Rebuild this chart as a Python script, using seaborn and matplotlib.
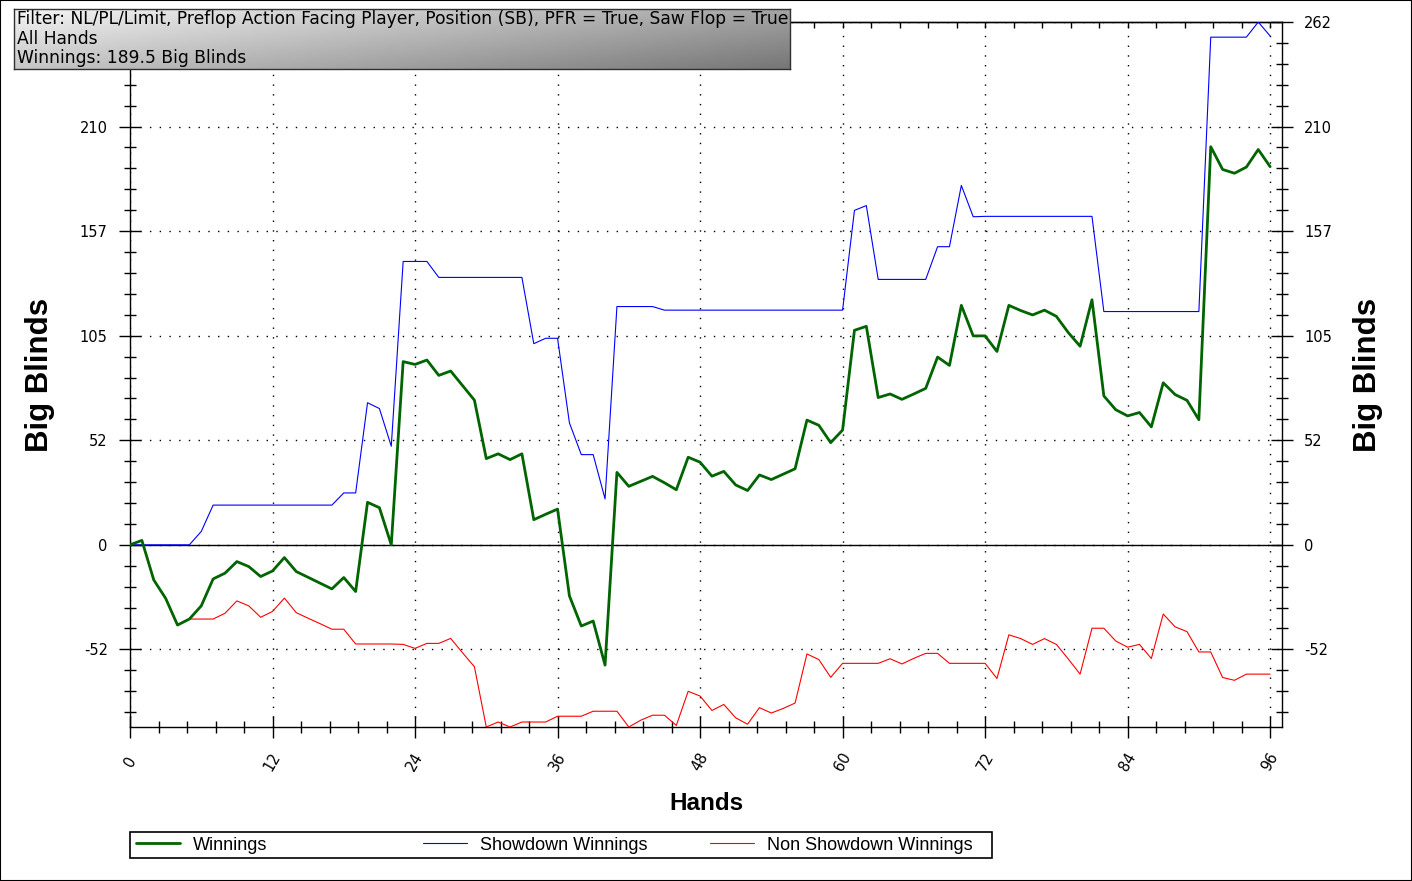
import matplotlib
matplotlib.use("Agg")
import matplotlib.pyplot as plt
import matplotlib.ticker as ticker
from matplotlib.patches import Rectangle
from matplotlib.lines import Line2D
import numpy as np
import pandas as pd
import seaborn as sns

# --- data (Big Blinds per hand) ---
hands = list(range(0, 97))

winnings = [
    0, 2.2, -17.6, -26.8, -40.2, -37.2, -30.6, -17.1, -14.2, -8.4,
    -10.9, -15.9, -13.1, -6.4, -13.4, -16.3, -19.2, -22.1, -16.4, -23.4,
    21.3, 18.6, 0, 91.8, 90.4, 92.6, 84.9, 87.1, 79.8, 72.5,
    43.2, 45.6, 42.7, 45.6, 12.6, 15.3, 17.9, -25.6, -40.7, -38.2,
    -60.3, 36.3, 29.3, 31.8, 34.3, 31.1, 27.6, 43.9, 41.4, 34.4,
    36.8, 30.0, 27.2, 35.0, 32.7, 35.4, 38.1, 62.5, 59.9, 51.2,
    57.5, 107.5, 109.5, 73.8, 75.6, 72.9, 75.6, 78.4, 94.1, 89.9,
    120.0, 104.7, 104.7, 96.9, 120.0, 117.4, 115.2, 117.6, 114.5, 106.4,
    99.5, 122.8, 74.6, 67.7, 64.6, 66.3, 59.1, 81.2, 75.3, 72.4,
    62.7, 199.5, 188.1, 186.2, 189.3, 198.1, 189.5,
]

showdown = [
    0, 0, 0, 0, 0, 0, 6.7, 19.9, 19.9, 19.9,
    19.9, 19.9, 19.9, 19.9, 19.9, 19.9, 19.9, 19.9, 26.0, 26.0,
    71.2, 68.3, 49.4, 142.0, 142.0, 142.0, 134.0, 134.0, 134.0, 134.0,
    134.0, 134.0, 134.0, 134.0, 100.8, 103.5, 103.5, 61.1, 45.2, 45.2,
    23.0, 119.4, 119.4, 119.4, 119.4, 117.6, 117.6, 117.6, 117.6, 117.6,
    117.6, 117.6, 117.6, 117.6, 117.6, 117.6, 117.6, 117.6, 117.6, 117.6,
    117.6, 167.6, 170.0, 133.0, 133.0, 133.0, 133.0, 133.0, 149.4, 149.4,
    180.1, 164.4, 164.6, 164.6, 164.6, 164.6, 164.6, 164.6, 164.6, 164.6,
    164.6, 164.6, 116.9, 116.9, 116.9, 116.9, 116.9, 116.9, 116.9, 116.9,
    116.9, 254.4, 254.4, 254.4, 254.4, 262.0, 255.0,
]

non_showdown = [
    0, 2.2, -17.6, -26.8, -40.2, -37.2, -37.2, -37.2, -34.3, -28.1,
    -30.6, -36.3, -33.4, -26.7, -34.0, -36.8, -39.5, -42.3, -42.3, -49.7,
    -49.7, -49.7, -49.7, -49.9, -51.9, -49.4, -49.4, -46.9, -54.1, -61.1,
    -91.3, -88.8, -91.3, -88.8, -88.8, -88.8, -85.9, -85.9, -85.9, -83.4,
    -83.4, -83.4, -91.3, -87.9, -85.4, -85.4, -90.5, -73.4, -75.8, -83.0,
    -80.0, -86.7, -89.9, -81.6, -84.3, -82.0, -79.3, -54.7, -57.5, -66.4,
    -59.4, -59.4, -59.4, -59.4, -57.1, -59.7, -56.9, -54.4, -54.4, -59.4,
    -59.4, -59.4, -59.4, -67.0, -45.1, -47.0, -49.9, -47.0, -49.9, -57.2,
    -64.8, -41.8, -41.8, -48.2, -51.3, -49.9, -57.0, -34.7, -41.1, -43.5,
    -53.7, -53.7, -66.5, -67.9, -64.8, -64.8, -64.8,
]

series_names = ["Winnings", "Showdown Winnings", "Non Showdown Winnings"]
series_colors = ["#006400", "#0000ff", "#ff0000"]

filter_lines = [
    "Filter: NL/PL/Limit, Preflop Action Facing Player, Position (SB), PFR = True, Saw Flop = True",
    "All Hands",
    "Winnings: 189.5 Big Blinds",
]

# --- style ---
sns.set_style("white")
plt.rcParams["font.family"] = ["DejaVu Sans"]
plt.rcParams.update({"text.color": "black", "axes.labelcolor": "black",
                     "xtick.color": "black", "ytick.color": "black"})

W, H = 1412, 881
fig = plt.figure(figsize=(W / 100, H / 100), dpi=100)
fig.patch.set_facecolor("white")


def fx(px):
    return px / W


def fy(py):
    return 1 - py / H


ax = fig.add_axes([fx(130), fy(727), fx(1282) - fx(130), fy(22) - fy(727)])

df = pd.DataFrame({"Hand": hands, "Winnings": winnings,
                   "Showdown Winnings": showdown,
                   "Non Showdown Winnings": non_showdown})

sns.lineplot(data=df, x="Hand", y="Non Showdown Winnings", color=series_colors[2],
             lw=0.8, ax=ax, zorder=3)
sns.lineplot(data=df, x="Hand", y="Showdown Winnings", color=series_colors[1],
             lw=0.8, ax=ax, zorder=4)
sns.lineplot(data=df, x="Hand", y="Winnings", color=series_colors[0],
             lw=2.0, ax=ax, zorder=5)

ax.axhline(0, color="black", lw=1.0, zorder=2)

ax.set_xlim(0, 97)
ax.set_ylim(-91.3, 262.0)

# ticks
ax.xaxis.set_major_locator(ticker.MultipleLocator(12))
ax.xaxis.set_minor_locator(ticker.MultipleLocator(2.4))
ax.yaxis.set_major_locator(ticker.FixedLocator(np.arange(-2, 6) * 52.4))
ax.yaxis.set_minor_locator(ticker.MultipleLocator(10.48))
ax.yaxis.set_major_formatter(ticker.FuncFormatter(lambda v, p: f"{int(round(v))}"))

ax.tick_params(axis="both", which="major", direction="inout", length=16, width=1.0,
               color="black", labelsize=10.5, labelcolor="black")
ax.tick_params(axis="both", which="minor", direction="inout", length=8, width=1.0,
               color="black")
ax.tick_params(axis="y", which="both", left=True, right=True,
               labelleft=True, labelright=True, pad=8)
ax.tick_params(axis="x", which="both", bottom=True, top=False, pad=17)
for lab in ax.get_xticklabels():
    lab.set_rotation(60)
    lab.set_ha("center")
    lab.set_va("center")

top = ax.secondary_xaxis("top")
top.xaxis.set_major_locator(ticker.MultipleLocator(12))
top.xaxis.set_minor_locator(ticker.MultipleLocator(2.4))
top.tick_params(which="both", direction="in", length=4.5, width=1.0, labeltop=False)
top.spines["top"].set_linewidth(1.0)

for s in ax.spines.values():
    s.set_color("black")
    s.set_linewidth(1.0)

ax.grid(True, which="major", color="black", linestyle=(0, (1, 6)), lw=1.0)
ax.set_xlabel("")
ax.set_ylabel("")

# the left "262" sits under the filter box in the original, so it is not seen
fig.canvas.draw()
for t in ax.yaxis.get_major_ticks():
    if abs(t.get_loc() - 262.0) < 0.5:
        t.label1.set_visible(False)

# axis titles
fig.text(fx(706), fy(804), "Hands", ha="center", va="center",
         fontsize=17.5, fontweight="bold", family=["Liberation Sans", "DejaVu Sans"])
for xpos in (40, 1368):
    fig.text(fx(xpos), fy(375), "Big Blinds", ha="center", va="center", rotation=90,
             fontsize=22.5, fontweight="bold", family=["Liberation Sans", "DejaVu Sans"])

# legend along the bottom
fig.patches.append(Rectangle((fx(130), fy(858)), fx(992) - fx(130), fy(832) - fy(858),
                             transform=fig.transFigure, fill=False,
                             edgecolor="black", lw=1.2))
legend_x = [136, 423, 710]
legend_w = [2.0, 0.8, 0.8]
for name, col, xpos, lw in zip(series_names, series_colors, legend_x, legend_w):
    h = Line2D([], [], color=col, lw=lw)
    leg = fig.legend([h], [name], loc="center left", bbox_to_anchor=(fx(xpos), fy(845)),
                     frameon=False, borderpad=0, borderaxespad=0, handlelength=2.45,
                     handletextpad=0.72, prop={"family": ["Liberation Sans", "DejaVu Sans"],
                                               "size": 13})
    for t in leg.get_texts():
        t.set_color("black")

# filter box with a grey gradient
box = fig.add_axes([fx(14), fy(69), fx(790) - fx(14), fy(9) - fy(69)])
gx, gy = np.meshgrid(np.linspace(0, 1, 200), np.linspace(0, 1, 40))
grad = (244 - 80 * gx - 46 * gy) / 255.0
box.imshow(grad, cmap="gray", vmin=0, vmax=1, aspect="auto", extent=(0, 1, 0, 1),
           origin="upper")
box.set_xticks([])
box.set_yticks([])
for s in box.spines.values():
    s.set_color("#303030")
    s.set_linewidth(1.0)
for i, line in enumerate(filter_lines):
    box.text(3 / 776, 1 - (10 + 19.5 * i) / 60, line, transform=box.transAxes,
             ha="left", va="center", fontsize=12.3, color="black")

fig.patches.append(Rectangle((0, 0), 1, 1, transform=fig.transFigure, fill=False,
                             edgecolor="black", lw=1.5))

fig.savefig("out.png", dpi=100)
